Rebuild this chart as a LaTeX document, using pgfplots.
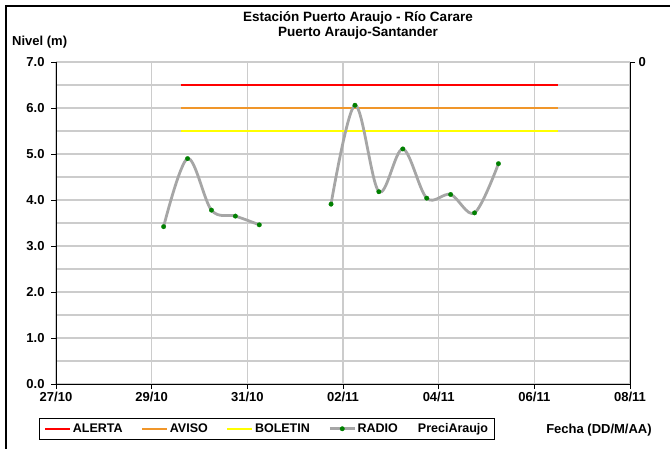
\documentclass[border=0pt]{standalone}
\usepackage{fontspec}
\setmainfont{Liberation Sans}
\usepackage{pgfplots}
\pgfplotsset{compat=1.18}
\definecolor{gridc}{HTML}{CCCCCC}
\definecolor{alerta}{HTML}{FF0000}
\definecolor{aviso}{HTML}{F0962A}
\definecolor{boletin}{HTML}{FFFF00}
\definecolor{radio}{HTML}{A6A6A6}
\definecolor{radiomk}{HTML}{008000}
\newcommand{\tf}{\fontsize{13bp}{15bp}\selectfont\bfseries}
\newcommand{\lf}{\fontsize{12.5bp}{14bp}\selectfont\bfseries}
\begin{document}
\begin{tikzpicture}
\useasboundingbox (0,0) rectangle (670bp,449bp);
\draw[line width=2bp] (6bp,0bp) -- (6bp,443bp) -- (672bp,443bp);
\begin{axis}[
  at={(56bp,65bp)}, anchor=south west,
  scale only axis, width=574bp, height=322bp,
  xmin=0, xmax=12, ymin=0, ymax=7,
  axis x line*=bottom, axis y line*=left,
  axis line style={line width=1bp, black, -},
  xtick={0,2,...,12},
  xticklabels={27/10,29/10,31/10,02/11,04/11,06/11,08/11},
  ytick={0,1,...,7},
  minor ytick={0.5,1.5,...,6.5},
  ymajorgrids, yminorgrids, xmajorgrids,
  major grid style={gridc, line width=1.2bp},
  minor grid style={gridc, line width=1.2bp},
  tick align=outside,
  major tick length=5bp,
  minor tick length=0bp,
  tick style={black, line width=0.8bp},
  /pgf/number format/assume math mode=true,
  yticklabel style={/pgf/number format/.cd, fixed, fixed zerofill, precision=1, /tikz/.cd, xshift=-3bp},
  tick label style={font=\tf},
  legend columns=5,
  legend image code/.code={\draw[mark repeat=2,mark phase=2,#1] plot coordinates {(0bp,0bp) (12.5bp,0bp) (25bp,0bp)};},
  legend style={
    at={(axis description cs:0.765,-0.1056)}, anchor=north east,
    draw=black, line width=1bp, font=\lf,
    inner xsep=5bp, inner ysep=2.5bp,
    nodes={inner xsep=1.5bp, inner ysep=2.5bp},
    /tikz/every even column/.append style={column sep=17bp},
  },
]
\addplot[alerta, line width=2.2bp] coordinates {(2.61,6.5) (10.49,6.5)};
\addlegendentry{ALERTA}
\addplot[aviso, line width=2.2bp] coordinates {(2.61,6.0) (10.49,6.0)};
\addlegendentry{AVISO}
\addplot[boletin, line width=2.2bp] coordinates {(2.61,5.5) (10.49,5.5)};
\addlegendentry{BOLETIN}
\addplot[radio, line width=2.8bp, smooth, tension=0.55, mark=*, mark size=2.3bp,
  mark options={draw=radiomk, fill=radiomk, line width=0.2bp}]
  coordinates {(2.25,3.42) (2.75,4.90) (3.25,3.78) (3.75,3.65) (4.25,3.46)};
\addlegendentry{RADIO}
\addlegendimage{empty legend}
\addlegendentry{PreciAraujo}
\addplot[radio, line width=2.8bp, smooth, tension=0.55, mark=*, mark size=2.3bp,
  mark options={draw=radiomk, fill=radiomk, line width=0.2bp}, forget plot]
  coordinates {(5.75,3.91) (6.25,6.06) (6.75,4.18) (7.25,5.11) (7.75,4.04) (8.25,4.12) (8.75,3.72) (9.25,4.79)};
\end{axis}
\begin{axis}[
  at={(56bp,65bp)}, anchor=south west,
  scale only axis, width=574bp, height=322bp,
  xmin=0, xmax=12, ymin=0, ymax=1, y dir=reverse,
  axis x line=none, axis y line*=right,
  axis line style={line width=1bp, black, -},
  ytick={0}, yticklabels={0},
  tick align=outside, major tick length=5bp,
  tick style={black, line width=0.8bp},
  tick label style={font=\tf},
]
\addplot[draw=none, forget plot] coordinates {(0,0)};
\end{axis}
\node[font=\fontsize{13.5bp}{15bp}\selectfont\bfseries] at (358bp,431bp) {Estación Puerto Araujo - Río Carare};
\node[font=\fontsize{13.5bp}{15bp}\selectfont\bfseries] at (358bp,416bp) {Puerto Araujo-Santander};
\node[font=\tf, anchor=west, inner sep=0pt] at (12bp,407bp) {Nivel (m)};
\node[font=\tf] at (599bp,19bp) {Fecha (DD/M/AA)};
\end{tikzpicture}
\end{document}
